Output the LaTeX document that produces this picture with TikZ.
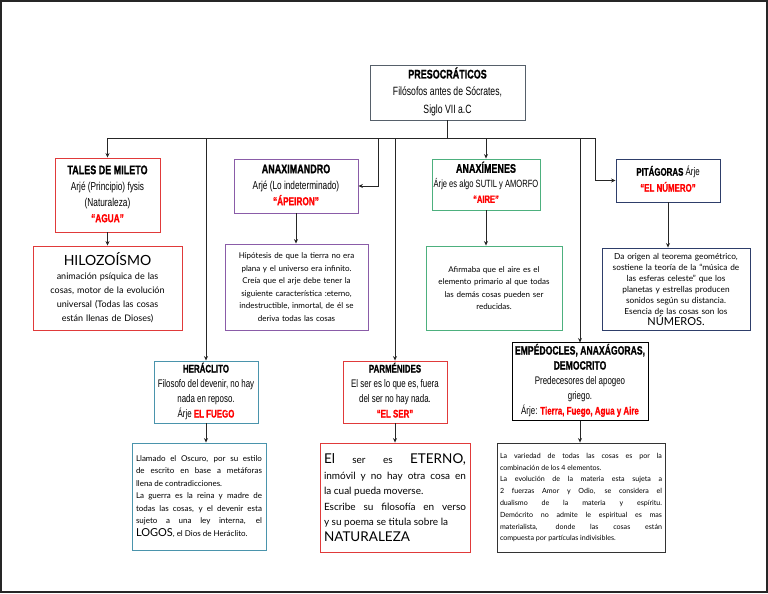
\documentclass[tikz,border=0pt]{standalone}
\usepackage{fontspec}
\usepackage{graphicx}
\setmainfont{Lato}
\newfontfamily\cond[BoldFeatures={FakeBold=1.2}]{Liberation Sans}
\usetikzlibrary{arrows.meta}
\definecolor{cred}{HTML}{E03A3A}
\definecolor{cpurple}{HTML}{8A5CA8}
\definecolor{cgreen}{HTML}{4DB07E}
\definecolor{cnavy}{HTML}{2E3E6A}
\definecolor{cteal}{HTML}{4A94AC}
\definecolor{cgray}{HTML}{56606A}
\definecolor{tred}{HTML}{FF0000}
\newcommand{\cf}[2]{\cond\fontsize{#1}{#2}\selectfont}
\newcommand{\cb}[1]{\scalebox{0.72}[1]{\begin{tabular}{@{}c@{}}#1\end{tabular}}}
\newcommand{\rd}[1]{\textcolor{tred}{\bfseries #1}}
\newcommand{\bd}[1]{{\bfseries #1}}
\newcommand{\hd}[1]{{\fontsize{12.5}{16}\selectfont\bfseries #1}}
\begin{document}
\begin{tikzpicture}[x=1pt,y=-1pt,
  hbox/.style={draw, line width=0.9pt, align=center, inner sep=1pt,
    font=\cf{11.5}{16}},
  tbox/.style={draw, line width=0.9pt, align=center, inner sep=3pt,
    font=\fontsize{8}{12.5}\selectfont},
  jbox/.style={draw, line width=0.9pt, align=justify, inner sep=4pt},
  arr/.style={line width=0.8pt, draw=black!85, -{Stealth[length=4.5pt,width=4pt]}},
  ln/.style={line width=0.8pt, draw=black!85}]
\useasboundingbox (0,0) rectangle (768,594);
\draw[black!85, line width=1.4pt] (1,1) rectangle (767,592);

% top
\node[hbox, draw=cgray, minimum width=155pt, minimum height=55pt,
  font=\cf{12}{17.5}] (top) at (447.5,92.5)
  {\cb{\hd{PRESOCRÁTICOS}\\Filósofos antes de Sócrates,\\Siglo VII a.C}};

% row 1
\node[hbox, draw=cred, minimum width=105pt, minimum height=74pt] (tales) at (107.5,195)
  {\cb{\hd{TALES DE MILETO}\\Arjé (Principio) fysis\\(Naturaleza)\\\rd{“AGUA”}}};
\node[hbox, draw=cpurple, minimum width=124pt, minimum height=54pt] (anaxd) at (296,186)
  {\cb{\hd{ANAXIMANDRO}\\Arjé (Lo indeterminado)\\\rd{“ÁPEIRON”}}};
\node[hbox, draw=cgreen, minimum width=108pt, minimum height=51pt,
  font=\cf{10.5}{15}] (anaxm) at (486,184.5)
  {\cb{\hd{ANAXÍMENES}\\Árje es algo SUTIL y AMORFO\\\rd{“AIRE”}}};
\node[hbox, draw=cnavy, minimum width=104pt, minimum height=43pt,
  font=\cf{11}{16}] (pita) at (668,180.5)
  {\cb{\bd{PITÁGORAS} Árje\\\rd{“EL NÚMERO”}}};

% row 2
\node[tbox, draw=cred, minimum width=149pt, minimum height=84pt, text width=143pt,
  font=\fontsize{9}{14}\selectfont] (hilo) at (107.5,288)
  {{\fontsize{14}{16}\selectfont HILOZOÍSMO}\\animación psíquica de las\\cosas, motor de la evolución\\universal (Todas las cosas\\están llenas de Dioses)};
\node[tbox, draw=cpurple, minimum width=143pt, minimum height=86pt, text width=137pt] (hipo) at (296.5,287)
  {Hipótesis de que la tierra no era\\plana y el universo era infinito.\\Creía que el arje debe tener la\\siguiente característica :eterno,\\indestructible, inmortal, de él se\\deriva todas las cosas};
\node[tbox, draw=cgreen, minimum width=136pt, minimum height=84pt, text width=130pt] (afir) at (494,288)
  {Afirmaba que el aire es el\\elemento primario al que todas\\las demás cosas pueden ser\\reducidas.};
\node[tbox, draw=cnavy, minimum width=148pt, minimum height=82pt, text width=142pt,
  font=\fontsize{8.3}{11}\selectfont] (daor) at (676,289)
  {Da origen al teorema geométrico,\\sostiene la teoría de la “música de\\las esferas celeste” que los\\planetas y estrellas producen\\sonidos según su distancia.\\Esencia de las cosas son los\\{\fontsize{11}{11}\selectfont NÚMEROS.}};

% row 3
\node[hbox, draw=cteal, minimum width=104pt, minimum height=60pt,
  font=\cf{11}{15}] (hera) at (206,392)
  {\cb{\bd{HERÁCLITO}\\Filosofo del devenir, no hay\\nada en reposo.\\Árje \rd{EL FUEGO}}};
\node[hbox, draw=cred, minimum width=104pt, minimum height=60pt,
  font=\cf{11}{15}] (parm) at (395,392)
  {\cb{\bd{PARMÉNIDES}\\El ser es lo que es, fuera\\del ser no hay nada.\\\rd{“EL SER”}}};
\node[hbox, draw=black, minimum width=136pt, minimum height=77pt,
  font=\cf{11}{15}] (empe) at (580,381.5)
  {\cb{{\fontsize{12}{15}\selectfont\bfseries EMPÉDOCLES, ANAXÁGORAS,}\\{\fontsize{12}{15}\selectfont\bfseries DEMOCRITO}\\Predecesores del apogeo\\griego.\\Árje: \rd{Tierra, Fuego, Agua y Aire}}};

% row 4
\node[jbox, draw=cteal, minimum width=134pt, minimum height=107pt, text width=126pt,
  font=\fontsize{8}{12.5}\selectfont] (herab) at (199,496.5)
  {\hyphenpenalty=10000 Llamado el Oscuro, por su estilo\linebreak de escrito en base a metáforas\linebreak llena de contradicciones.\par
   La guerra es la reina y madre de\linebreak todas las cosas, y el devenir esta\linebreak sujeto a una ley interna, el\linebreak {\fontsize{11}{12.5}\selectfont LOGOS}, el Dios de Heráclito.\par};
\node[jbox, draw=cred, minimum width=150pt, minimum height=109pt, text width=142pt,
  font=\fontsize{10}{15.5}\selectfont] (parmb) at (395,497.5)
  {\hyphenpenalty=10000 {\fontsize{13.5}{15.5}\selectfont El} ser es {\fontsize{13.5}{15.5}\selectfont ETERNO,}\linebreak inmóvil y no hay otra cosa en\linebreak la cual pueda moverse.\par
   Escribe su filosofía en verso\linebreak y su poema se titula sobre la\par
   {\fontsize{13.5}{15.5}\selectfont NATURALEZA}\par};
\node[jbox, draw=black!80, minimum width=168pt, minimum height=109pt, text width=162pt,
  inner sep=3pt, font=\fontsize{7.1}{11.8}\selectfont] (empeb) at (581,497.5)
  {\hyphenpenalty=10000 La variedad de todas las cosas es por la\linebreak combinación de los 4 elementos.\par
   La evolución de la materia esta sujeta a\linebreak 2 fuerzas Amor y Odio, se considera el\linebreak dualismo de la materia y espíritu.\linebreak Demócrito no admite le espiritual es mas\linebreak materialista, donde las cosas están\linebreak compuesta por partículas indivisibles.\par\vspace{8pt}};

% connectors
\coordinate (bus) at (0,138);
\coordinate (busL) at (107.5,138);
\coordinate (busR) at (595,138);
\coordinate (kA) at (378,138);
\draw[ln] (top.south) -- (top.south |- bus);
\draw[ln] (busL) -- (busR);
\draw[arr] (busL) -- (tales.north);
\draw[arr] (hera.north |- bus) -- (hera.north);
\draw[arr] (kA) |- (anaxd.east);
\draw[arr] (parm.north |- bus) -- (parm.north);
\draw[arr] (anaxm.north |- bus) -- (anaxm.north);
\draw[arr] (empe.north |- bus) -- (empe.north);
\draw[arr] (busR) |- (pita.west);

\draw[arr] (tales.south) -- (tales.south |- hilo.north);
\draw[arr] (anaxd.south) -- (anaxd.south |- hipo.north);
\draw[arr] (anaxm.south) -- (anaxm.south |- afir.north);
\draw[arr] (pita.south) -- (pita.south |- daor.north);
\draw[arr] (hera.south) -- (hera.south |- herab.north);
\draw[arr] (parm.south) -- (parm.south |- parmb.north);
\draw[arr] (empe.south) -- (empe.south |- empeb.north);
\end{tikzpicture}
\end{document}
